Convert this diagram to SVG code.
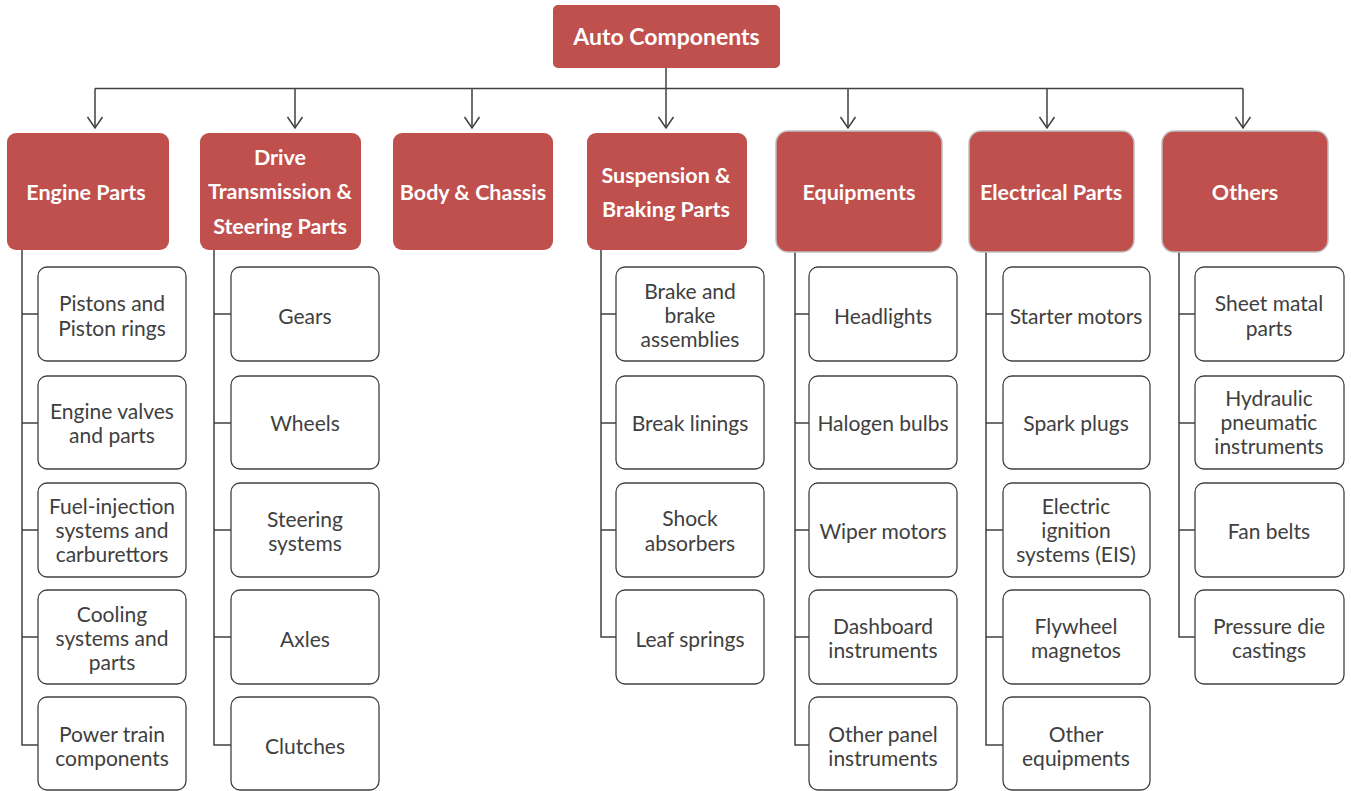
<svg xmlns="http://www.w3.org/2000/svg" width="1351" height="791" viewBox="0 0 1351 791">
<style>
.cat{fill:#C0504D;}
.catb{fill:#C0504D;stroke:#BFBFBF;stroke-width:1.5;}
.ct{fill:#FFFFFF;font-family:Lato,"Liberation Sans",sans-serif;font-weight:bold;font-size:21.5px;text-anchor:middle;dominant-baseline:central;}
.leaf{fill:#FFFFFF;stroke:#404040;stroke-width:1.3;}
.lt{fill:#404040;font-family:Lato,"Liberation Sans",sans-serif;font-size:21px;text-anchor:middle;dominant-baseline:central;}
.con{fill:none;stroke:#404040;stroke-width:1.5;}
</style>
<defs>
<marker id="arr" markerWidth="14" markerHeight="18" refX="12" refY="9" orient="auto" markerUnits="userSpaceOnUse" viewBox="0 0 14 18">
<polyline points="1,1.5 12,9 1,16.5" fill="none" stroke="#404040" stroke-width="1.5"/>
</marker>
</defs>
<g id="connectors">
<polyline class="con" points="666,68 666,88.5"/>
<polyline class="con" points="95,88.5 1243,88.5"/>
<line class="con" x1="95" y1="88.5" x2="95" y2="128" marker-end="url(#arr)"/>
<line class="con" x1="295" y1="88.5" x2="295" y2="128" marker-end="url(#arr)"/>
<line class="con" x1="472" y1="88.5" x2="472" y2="128" marker-end="url(#arr)"/>
<line class="con" x1="666" y1="88.5" x2="666" y2="128" marker-end="url(#arr)"/>
<line class="con" x1="848" y1="88.5" x2="848" y2="128" marker-end="url(#arr)"/>
<line class="con" x1="1047" y1="88.5" x2="1047" y2="128" marker-end="url(#arr)"/>
<line class="con" x1="1243" y1="88.5" x2="1243" y2="128" marker-end="url(#arr)"/>
<path class="con" d="M22,250 V745 H38 M22,314 H38 M22,423 H38 M22,530 H38 M22,637 H38"/>
<path class="con" d="M214,250 V745 H231 M214,314 H231 M214,423 H231 M214,530 H231 M214,637 H231"/>
<path class="con" d="M601,250 V637 H616 M601,314 H616 M601,423 H616 M601,530 H616"/>
<path class="con" d="M795,252 V745 H809 M795,314 H809 M795,423 H809 M795,530 H809 M795,637 H809"/>
<path class="con" d="M986,252 V745 H1003 M986,314 H1003 M986,423 H1003 M986,530 H1003 M986,637 H1003"/>
<path class="con" d="M1179,252 V637 H1195 M1179,314 H1195 M1179,423 H1195 M1179,530 H1195"/>
</g>
<g id="root"><rect class="cat" x="553" y="5" width="227" height="63" rx="5"/><text class="ct" x="666.5" y="35.5" style="font-size:23px">Auto Components</text></g>
<g id="engine"><rect class="cat" x="7" y="133" width="162" height="117" rx="9"/><text class="ct" x="86" y="192">Engine Parts</text></g>
<g id="drive"><rect class="cat" x="200" y="133" width="161" height="117" rx="9"/><text class="ct" x="280" y="157">Drive</text><text class="ct" x="280" y="191">Transmission &amp;</text><text class="ct" x="280" y="226">Steering Parts</text></g>
<g id="body"><rect class="cat" x="393" y="133" width="160" height="117" rx="9"/><text class="ct" x="473" y="192">Body &amp; Chassis</text></g>
<g id="suspension"><rect class="cat" x="587" y="133" width="160" height="117" rx="9"/><text class="ct" x="666" y="175">Suspension &amp;</text><text class="ct" x="666" y="209">Braking Parts</text></g>
<g id="equipments"><rect class="catb" x="776" y="131" width="166" height="121" rx="12"/><text class="ct" x="859" y="192">Equipments</text></g>
<g id="electrical"><rect class="catb" x="969" y="131" width="165" height="121" rx="12"/><text class="ct" x="1051" y="192">Electrical Parts</text></g>
<g id="others"><rect class="catb" x="1162" y="131" width="166" height="121" rx="12"/><text class="ct" x="1245" y="192">Others</text></g>

<g id="e1"><rect class="leaf" x="38" y="267" width="148" height="94" rx="9"/><text class="lt" x="112" y="302">Pistons and</text><text class="lt" x="112" y="327">Piston rings</text></g>
<g id="e2"><rect class="leaf" x="38" y="376" width="148" height="93" rx="9"/><text class="lt" x="112" y="410">Engine valves</text><text class="lt" x="112" y="434">and parts</text></g>
<g id="e3"><rect class="leaf" x="38" y="483" width="148" height="94" rx="9"/><text class="lt" x="112" y="505">Fuel-injection</text><text class="lt" x="112" y="529">systems and</text><text class="lt" x="112" y="553">carburettors</text></g>
<g id="e4"><rect class="leaf" x="38" y="590" width="148" height="94" rx="9"/><text class="lt" x="112" y="613">Cooling</text><text class="lt" x="112" y="637">systems and</text><text class="lt" x="112" y="661">parts</text></g>
<g id="e5"><rect class="leaf" x="38" y="697" width="148" height="93" rx="9"/><text class="lt" x="112" y="733">Power train</text><text class="lt" x="112" y="757">components</text></g>

<g id="d1"><rect class="leaf" x="231" y="267" width="148" height="94" rx="9"/><text class="lt" x="305" y="315">Gears</text></g>
<g id="d2"><rect class="leaf" x="231" y="376" width="148" height="93" rx="9"/><text class="lt" x="305" y="422">Wheels</text></g>
<g id="d3"><rect class="leaf" x="231" y="483" width="148" height="94" rx="9"/><text class="lt" x="305" y="518">Steering</text><text class="lt" x="305" y="542">systems</text></g>
<g id="d4"><rect class="leaf" x="231" y="590" width="148" height="94" rx="9"/><text class="lt" x="305" y="638">Axles</text></g>
<g id="d5"><rect class="leaf" x="231" y="697" width="148" height="93" rx="9"/><text class="lt" x="305" y="745">Clutches</text></g>

<g id="s1"><rect class="leaf" x="616" y="267" width="148" height="94" rx="9"/><text class="lt" x="690" y="290">Brake and</text><text class="lt" x="690" y="314">brake</text><text class="lt" x="690" y="338">assemblies</text></g>
<g id="s2"><rect class="leaf" x="616" y="376" width="148" height="93" rx="9"/><text class="lt" x="690" y="422">Break linings</text></g>
<g id="s3"><rect class="leaf" x="616" y="483" width="148" height="94" rx="9"/><text class="lt" x="690" y="517">Shock</text><text class="lt" x="690" y="542">absorbers</text></g>
<g id="s4"><rect class="leaf" x="616" y="590" width="148" height="94" rx="9"/><text class="lt" x="690" y="638">Leaf springs</text></g>

<g id="q1"><rect class="leaf" x="809" y="267" width="148" height="94" rx="9"/><text class="lt" x="883" y="315">Headlights</text></g>
<g id="q2"><rect class="leaf" x="809" y="376" width="148" height="93" rx="9"/><text class="lt" x="883" y="422">Halogen bulbs</text></g>
<g id="q3"><rect class="leaf" x="809" y="483" width="148" height="94" rx="9"/><text class="lt" x="883" y="530">Wiper motors</text></g>
<g id="q4"><rect class="leaf" x="809" y="590" width="148" height="94" rx="9"/><text class="lt" x="883" y="625">Dashboard</text><text class="lt" x="883" y="649">instruments</text></g>
<g id="q5"><rect class="leaf" x="809" y="697" width="148" height="93" rx="9"/><text class="lt" x="883" y="733">Other panel</text><text class="lt" x="883" y="757">instruments</text></g>

<g id="l1"><rect class="leaf" x="1003" y="267" width="147" height="94" rx="9"/><text class="lt" x="1076" y="315">Starter motors</text></g>
<g id="l2"><rect class="leaf" x="1003" y="376" width="147" height="93" rx="9"/><text class="lt" x="1076" y="422">Spark plugs</text></g>
<g id="l3"><rect class="leaf" x="1003" y="483" width="147" height="94" rx="9"/><text class="lt" x="1076" y="505">Electric</text><text class="lt" x="1076" y="529">ignition</text><text class="lt" x="1076" y="553">systems (EIS)</text></g>
<g id="l4"><rect class="leaf" x="1003" y="590" width="147" height="94" rx="9"/><text class="lt" x="1076" y="625">Flywheel</text><text class="lt" x="1076" y="649">magnetos</text></g>
<g id="l5"><rect class="leaf" x="1003" y="697" width="147" height="93" rx="9"/><text class="lt" x="1076" y="733">Other</text><text class="lt" x="1076" y="757">equipments</text></g>

<g id="o1"><rect class="leaf" x="1195" y="267" width="149" height="94" rx="9"/><text class="lt" x="1269" y="302">Sheet matal</text><text class="lt" x="1269" y="327">parts</text></g>
<g id="o2"><rect class="leaf" x="1195" y="376" width="149" height="93" rx="9"/><text class="lt" x="1269" y="397">Hydraulic</text><text class="lt" x="1269" y="421">pneumatic</text><text class="lt" x="1269" y="445">instruments</text></g>
<g id="o3"><rect class="leaf" x="1195" y="483" width="149" height="94" rx="9"/><text class="lt" x="1269" y="530">Fan belts</text></g>
<g id="o4"><rect class="leaf" x="1195" y="590" width="149" height="94" rx="9"/><text class="lt" x="1269" y="625">Pressure die</text><text class="lt" x="1269" y="649">castings</text></g>
</svg>
